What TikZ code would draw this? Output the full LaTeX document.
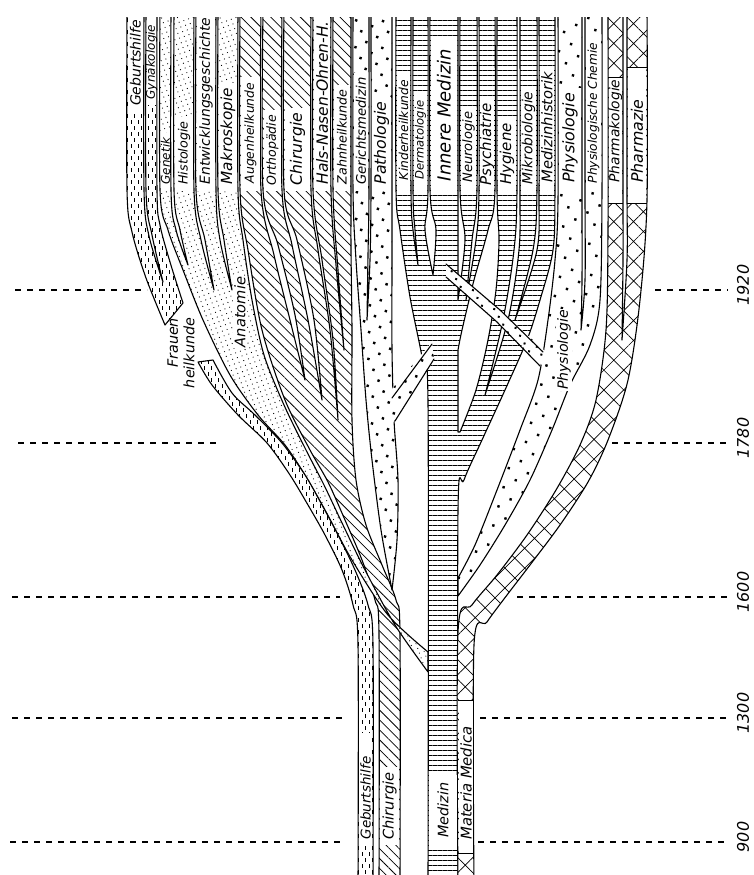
\documentclass[tikz,border=0pt]{standalone}
\usepackage{fontspec}
\newfontfamily\dvs{DejaVu Sans}
\usetikzlibrary{patterns,patterns.meta}
\newcommand\fsz[1]{\fontsize{#1}{#1}\selectfont}
\pgfdeclarepatternformonly{vdash}{\pgfqpoint{-1pt}{-1pt}}{\pgfqpoint{8pt}{13pt}}{\pgfqpoint{7pt}{12pt}}{%
  \pgfsetlinewidth{1pt}%
  \pgfpathmoveto{\pgfqpoint{1.5pt}{1pt}}\pgfpathlineto{\pgfqpoint{1.5pt}{4.5pt}}%
  \pgfpathmoveto{\pgfqpoint{5pt}{7pt}}\pgfpathlineto{\pgfqpoint{5pt}{10.5pt}}%
  \pgfusepath{stroke}}
\tikzset{
  band/.style={draw, line width=1.1pt, line join=round, preaction={fill=white}},
  edge/.style={line width=1.1pt, line cap=round},
  hl/.style={pattern={Lines[angle=0,distance=5pt,line width=0.8pt]}},
  hatch/.style={pattern={Lines[angle=-45,distance=7pt,line width=0.75pt]}},
  xh/.style={pattern={Hatch[angle=45,distance=14pt,line width=0.7pt]}},
  bdots/.style={pattern={Dots[angle=25,distance=12pt,radius=1.7pt]}},
  pdots/.style={pattern={Dots[angle=30,distance=14pt,radius=1.7pt]}},
  sdots/.style={pattern={Dots[angle=30,distance=9pt,radius=1.4pt]}},
  fdots/.style={pattern={Dots[angle=20,distance=5pt,radius=0.6pt]}},
  vd/.style={pattern=vdash},
  lab/.style={rotate=90, inner sep=0pt},
  boxline/.style={line width=0.9pt},
  yearline/.style={line width=1.3pt, dash pattern=on 6pt off 6pt},
  yearlab/.style={rotate=90, font=\dvs\itshape\fsz{16}},
}
\newcommand\lbox[8]{%
  \fill[white] ({#2+1},#4) rectangle ({#3-1},#5);
  \node[lab, font=\dvs\itshape\fsz{#7}] (#1) at ({(#2+#3)/2},#6) {#8};}
\begin{document}
\begin{tikzpicture}[x=1pt,y=-1pt]
\useasboundingbox (0,0) rectangle (754,875);

% ---------------- Innere Medizin group (horizontal lines)
\path[band, hl] plot[smooth] coordinates {(396,10)(396,190)(400,230)(410,297)(422,357)(428,403)(428,885)}
 -- plot[smooth] coordinates {(458,885)(458,510)(464,480)(482,440)(505,390)(527,340)(540,300)(553,250)(555,190)(555,10)}
 -- plot[smooth] coordinates {(539,10)(539,190)(537,250)(515,320)}
 -- plot[smooth] coordinates {(515,320)(533,250)(537,190)(537,10)}
 -- plot[smooth] coordinates {(520,10)(520,190)(519,250)(508,320)(485,395)}
 -- plot[smooth] coordinates {(485,395)(503,320)(514,250)(517,190)(517,10)}
 -- plot[smooth] coordinates {(497,10)(497,190)(499,240)(496,290)(488,340)(476,390)(460,432)}
 -- (458,432) -- (458,350)
 -- plot[smooth] coordinates {(458,350)(462,330)(474,280)(488,230)(495,190)(495,10)}
 -- plot[smooth] coordinates {(479,10)(479,190)(476,240)(466,300)}
 -- plot[smooth] coordinates {(466,300)(472,240)(477,190)(477,10)}
 -- plot[smooth] coordinates {(460,10)(460,190)(465,240)(458,300)}
 -- plot[smooth] coordinates {(458,300)(458,240)(458,190)(458,10)}
 -- plot[smooth] coordinates {(430,10)(430,190)(436,230)(433,275)}
 -- plot[smooth] coordinates {(433,275)(425,230)(428,190)(428,10)}
 -- plot[smooth] coordinates {(413,10)(413,190)(415,230)(418,265)}
 -- plot[smooth] coordinates {(418,265)(413,230)(411,190)(411,10)}
 -- cycle;

% ---------------- Physiologie group (dots)
\path[band, pdots] plot[smooth] coordinates {(558,10)(558,200)(555,260)(548,320)(538,380)(520,430)(497,490)(475,545)(458,578)}
 -- (458,596)
 -- plot[smooth] coordinates {(458,596)(480,565)(505,525)(530,480)(552,430)(570,385)(590,345)(600,300)(602,190)(602,10)}
 -- plot[smooth] coordinates {(585,10)(585,190)(585,280)(581,330)}
 -- plot[smooth] coordinates {(581,330)(582,280)(582,190)(582,10)}
 -- cycle;
% cross branch Physiologie -> Innere Medizin
\path[preaction={fill=white}, sdots] (446,264) -- (500,310) -- (546,352) -- (543,366) -- (497,322) -- (446,277) -- cycle;
\draw[edge] (446,264) -- (500,310) -- (543,352);
\draw[edge] (446,277) -- (497,322) -- (540,366);

% ---------------- Pharmazie / Materia Medica (cross hatch)
\path[band, xh] plot[smooth] coordinates {(608,10)(608,230)(606,330)(596,400)(580,445)(556,490)(527,535)(497,575)(472,605)(458,632)(458,885)}
 -- plot[smooth] coordinates {(474,885)(474,645)(487,622)(507,595)(530,565)(560,525)(588,482)(608,440)(628,380)(640,300)(647,200)(647,10)}
 -- plot[smooth] coordinates {(627,10)(627,190)(627,260)(622,340)}
 -- plot[smooth] coordinates {(622,340)(623,260)(623,190)(623,10)}
 -- cycle;

% ---------------- Chirurgie group (hatch)
\path[band, hatch] plot[smooth] coordinates {(240,10)(240,190)(248,250)(262,330)(285,400)(310,450)(328,482)(345,520)(362,560)(375,600)(379,635)(379,885)}
 -- plot[smooth] coordinates {(400,885)(400,635)(396,600)(382,565)(366,525)(356,480)(352,420)(352,330)(351,250)(351,190)(351,10)}
 -- plot[smooth] coordinates {(333,10)(333,190)(338,270)(344,350)}
 -- plot[smooth] coordinates {(344,350)(336,265)(331,190)(331,10)}
 -- plot[smooth] coordinates {(313,10)(313,190)(322,260)(333,340)(338,420)}
 -- plot[smooth] coordinates {(338,420)(330,330)(318,250)(311,190)(311,10)}
 -- plot[smooth] coordinates {(284,10)(284,190)(297,240)(314,320)(322,400)}
 -- plot[smooth] coordinates {(322,400)(308,320)(292,245)(282,190)(282,10)}
 -- plot[smooth] coordinates {(263,10)(263,190)(278,245)(295,315)(305,380)}
 -- plot[smooth] coordinates {(305,380)(290,320)(274,255)(261,190)(261,10)}
 -- cycle;

% ---------------- Pathologie group (big dots)
\path[band, bdots] plot[smooth] coordinates {(353,10)(353,190)(356,260)(361,330)(366,400)(372,460)(381,530)(392,590)}
 -- plot[smooth] coordinates {(392,590)(397,540)(398,480)(394,420)(392,350)(392,260)(392,190)(392,10)}
 -- plot[smooth] coordinates {(371,10)(371,190)(370,260)(367,320)}
 -- plot[smooth] coordinates {(367,320)(368,255)(369,190)(369,10)}
 -- cycle;
% cross branch Pathologie -> Medizin
\path[preaction={fill=white}, bdots] (386,396) -- (432,342) -- (434,360) -- (392,424) -- cycle;
\draw[edge] (392,398) -- (432,344);
\draw[edge] (395,421) -- (434,359);

% ---------------- Anatomie group (fine dots)
\path[band, fdots] plot[smooth] coordinates {(160,10)(160,190)(168,230)(183,270)(203,320)(230,375)(258,415)(285,445)(305,475)(325,510)(352,560)(388,615)(428,652)}
 -- (428,672)
 -- plot[smooth] coordinates {(428,672)(395,625)(365,570)(343,525)(324,485)(306,450)(284,405)(264,355)(252,300)(243,240)(238,190)(238,10)}
 -- plot[smooth] coordinates {(218,10)(218,190)(224,240)(232,290)}
 -- plot[smooth] coordinates {(232,290)(220,240)(216,190)(216,10)}
 -- plot[smooth] coordinates {(196,10)(196,190)(205,240)(214,290)}
 -- plot[smooth] coordinates {(214,290)(201,240)(194,190)(194,10)}
 -- plot[smooth] coordinates {(174,10)(174,190)(180,230)(188,265)}
 -- plot[smooth] coordinates {(188,265)(176,230)(171,190)(171,10)}
 -- cycle;

% ---------------- Geburtshilfe / Frauenheilkunde (dashes)
\path[band, vd] plot[smooth] coordinates {(127,10)(127,190)(132,232)(146,278)(165,325)}
 -- (183,303)
 -- plot[smooth] coordinates {(183,303)(170,262)(160,225)(157,190)(157,10)}
 -- plot[smooth] coordinates {(146,10)(146,190)(152,235)(163,282)}
 -- plot[smooth] coordinates {(163,282)(149,236)(144,190)(144,10)}
 -- cycle;
\path[band, vd] plot[smooth] coordinates {(198,362)(212,385)(238,415)(267,443)(290,475)(308,505)(325,535)(342,570)(353,605)(358,645)(358,885)}
 -- plot[smooth] coordinates {(373,885)(373,645)(368,605)(355,570)(338,535)(322,505)(305,475)(282,443)(255,415)(232,393)(213,360)}
 -- cycle;

% clean top edge
\fill[white] (-5,-5) rectangle (760,17);

% ---------------- labels at the top
\lbox{gebT}{127}{144}{17}{112}{63}{14}{Geburtshilfe}
\lbox{gynT}{146}{157}{17}{105}{62}{12}{Gynäkologie}
\lbox{genT}{160}{171}{133}{191}{161}{12}{Genetik}
\lbox{hisT}{174}{194}{117}{191}{153}{12.7}{Histologie}
\lbox{entT}{196}{216}{17}{191}{101}{13.9}{Entwicklungsgeschichte}
\lbox{makT}{218}{238}{83}{191}{136}{15.3}{Makroskopie}
\lbox{augT}{240}{261}{77}{191}{133}{12.4}{Augenheilkunde}
\lbox{ortT}{263}{282}{110}{191}{150}{12.5}{Orthopädie}
\lbox{chiT}{284}{311}{108}{191}{149}{15.7}{Chirurgie}
\lbox{hnoT}{313}{331}{17}{191}{103}{15.5}{Hals-Nasen-Ohren-H.}
\lbox{zahT}{333}{351}{85}{191}{137}{12.7}{Zahnheilkunde}
\lbox{gerT}{353}{369}{73}{191}{131}{13.2}{Gerichtsmedizin}
\lbox{patT}{371}{392}{97}{191}{143}{15.7}{Pathologie}
\lbox{kinT}{396}{411}{73}{191}{130}{12.3}{Kinderheilkunde}
\lbox{derT}{413}{428}{92}{191}{140}{11.6}{Dermatologie}
\lbox{innT}{430}{458}{38}{193}{115}{18}{Innere Medizin}
\lbox{neuT}{460}{477}{107}{191}{147}{13}{Neurologie}
\lbox{psyT}{479}{495}{98}{191}{144}{15}{Psychiatrie}
\lbox{hygT}{497}{517}{118}{191}{154}{15}{Hygiene}
\lbox{mikT}{520}{537}{87}{191}{138}{13.9}{Mikrobiologie}
\lbox{medT}{539}{555}{67}{191}{127}{14.7}{Medizinhistorik}
\lbox{phyT}{558}{582}{88}{191}{138}{15.9}{Physiologie}
\lbox{pchT}{585}{602}{38}{191}{113}{12.2}{Physiologische Chemie}
\lbox{pmkT}{608}{623}{77}{203}{131}{13.8}{Pharmakologie}
\lbox{pmzT}{627}{647}{67}{203}{141}{15.8}{Pharmazie}
\draw[boxline] (608,77) -- (623,77);
\draw[boxline] (627,67) -- (647,67);
\draw[boxline] (608,203) -- (623,203) (627,203) -- (647,203);

% ---------------- labels at the bottom
\lbox{gebB}{358}{373}{733}{845}{798}{13.5}{Geburtshilfe}
\lbox{chiB}{379}{400}{767}{845}{806}{14.6}{Chirurgie}
\lbox{medB}{428}{458}{775}{848}{810}{14.4}{Medizin}
\lbox{matB}{458}{474}{700}{853}{783}{14.8}{Materia Medica}
\draw[boxline] (458,700) -- (474,700) (458,853) -- (474,853);

% ---------------- labels in the middle
\node[lab, font=\dvs\itshape\fsz{14.6}, fill=white, inner sep=1pt] (anaL) at (240,312) {Anatomie};
\node[lab, font=\dvs\itshape\fontsize{14.3}{16.5}\selectfont, align=right] (frL) at (181,353) {Frauen\\heilkunde};
\node[lab, font=\dvs\itshape\fsz{14.1}, fill=white, inner sep=1pt] (phyL) at (564,350) {Physiologie};

% ---------------- time lines
\foreach \yy/\la/\lb/\ra/\yr/\nm in {290/15/147/655/1920/a, 443/18/220/612/1780/b, 597/12/340/517/1600/c, 718/12/345/480/1300/d, 842/10/345/478/900/e}{
  \coordinate (L\nm a) at (\la,\yy);
  \coordinate (L\nm b) at (\lb,\yy);
  \coordinate (R\nm a) at (\ra,\yy);
  \coordinate (R\nm b) at (728,\yy);
  \draw[yearline] (L\nm a) -- (L\nm b);
  \draw[yearline] (R\nm a) -- (R\nm b);
  \node[yearlab] (Y\nm) at (743,\yy-5) {\yr};
}
\end{tikzpicture}
\end{document}
